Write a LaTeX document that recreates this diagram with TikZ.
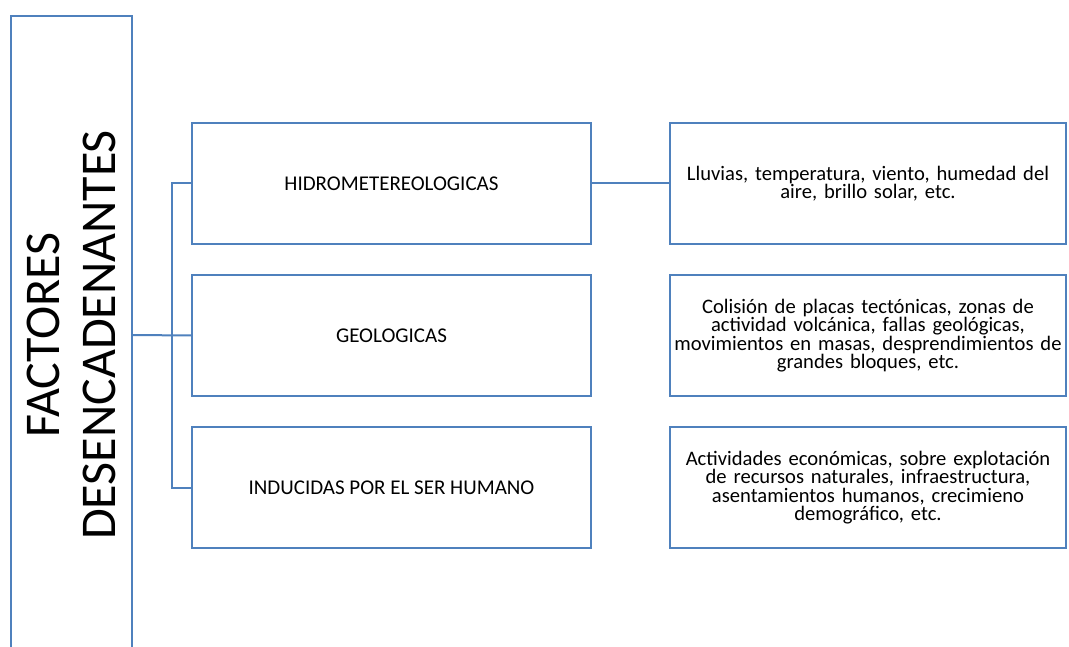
\documentclass[tikz,border=0pt]{standalone}
\usepackage{fontspec}
\setmainfont{Carlito}
\usepackage{tikz}
\usetikzlibrary{calc}
\definecolor{boxblue}{RGB}{79,129,189}

\begin{document}
\begin{tikzpicture}[x=1pt, y=-1pt, outer sep=0pt,
  caja/.style={draw=boxblue, line width=2pt, minimum width=399pt, minimum height=121pt, inner sep=0pt, font=\fontsize{21}{18.5}\selectfont},
  desc/.style={caja, minimum width=396pt, text width=396pt, align=center, font=\fontsize{20.6}{18.5}\selectfont},
  linea/.style={draw=boxblue, line width=2pt}]
\useasboundingbox (0,0) rectangle (1069,647);

\node[draw=boxblue, line width=2pt, rotate=90, minimum width=638pt, minimum height=121pt, inner sep=0pt, align=center, font=\fontsize{50}{56}\selectfont] at (71.5, 335) (FACTORES) {FACTORES\\DESENCADENANTES};

\node[caja] at (391.5, 183.5) (HIDRO) {HIDROMETEREOLOGICAS};
\node[caja] at (391.5, 335.5) (GEO) {GEOLOGICAS};
\node[caja] at (391.5, 487.5) (HUMANO) {INDUCIDAS POR EL SER HUMANO};

\node[desc] at (868, 183.5) (HIDRO_DESC) {Lluvias, temperatura, viento, humedad del\\aire, brillo solar, etc.};
\node[desc] at (868, 335.5) (GEO_DESC) {Colisión de placas tectónicas, zonas de\\actividad volcánica, fallas geológicas,\\movimientos en masas, desprendimientos de\\grandes bloques, etc.};
\node[desc] at (868, 487.5) (HUMANO_DESC) {Actividades económicas, sobre explotación\\de recursos naturales, infraestructura,\\asentamientos humanos, crecimieno\\demográfico, etc.};

\coordinate (TRONCO) at (172, 335.5);
    \draw [linea] (FACTORES.south) -- (GEO.west);
    \draw [linea] (HIDRO.west) -| (TRONCO) |- (HUMANO.west);
    \draw [linea] (HIDRO.east) -- (HIDRO_DESC.west);
\end{tikzpicture}
\end{document}
